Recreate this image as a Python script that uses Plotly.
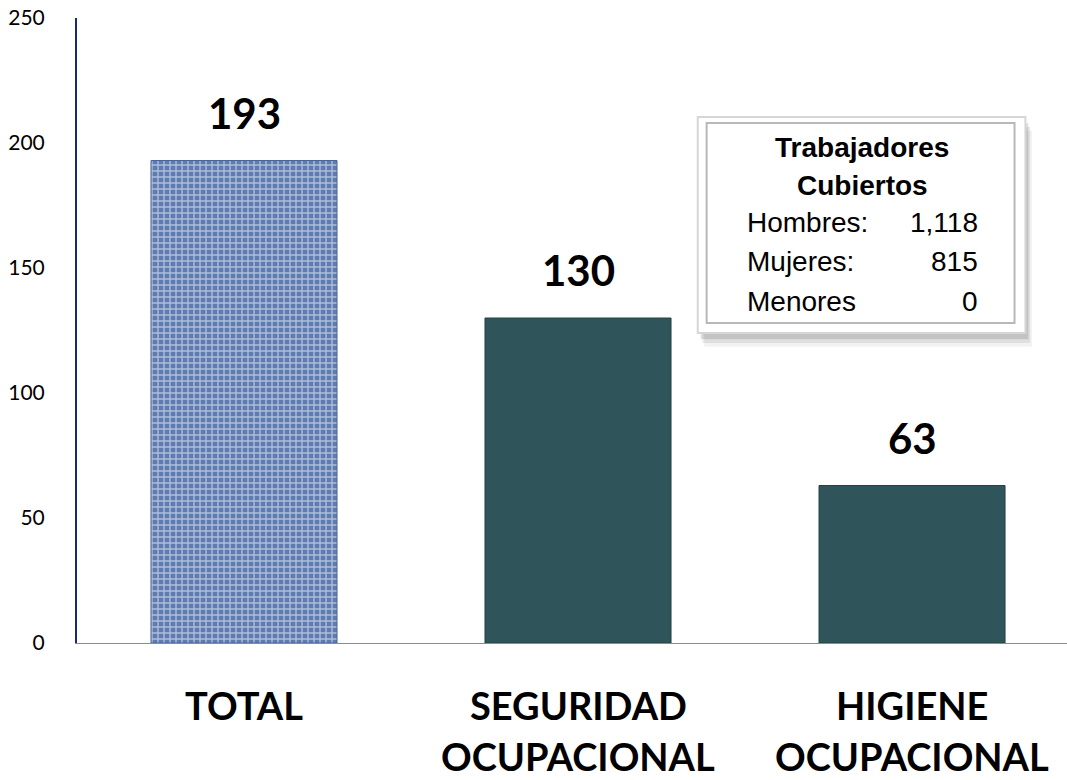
import plotly.graph_objects as go

# data
categorias = ["TOTAL", "SEGURIDAD OCUPACIONAL", "HIGIENE OCUPACIONAL"]
lineas = [["TOTAL"], ["SEGURIDAD", "OCUPACIONAL"], ["HIGIENE", "OCUPACIONAL"]]
valores = [193, 130, 63]
colores = ["#5f7cb2", "#2f5459", "#2f5459"]
y_ticks = [0, 50, 100, 150, 200, 250]

caja_titulo = ["Trabajadores", "Cubiertos"]
caja_etiquetas = ["Hombres:", "Mujeres:", "Menores"]
caja_valores = ["1,118", "815", "0"]

fig = go.Figure()

fig.add_trace(go.Bar(
    x=categorias,
    y=valores,
    marker=dict(
        color=colores,
        line=dict(color=["#4a6698", "#244246", "#244246"], width=1),
        pattern=dict(
            shape=["+", "", ""],
            fgcolor="#c3d3ec",
            size=6,
            solidity=0.4,
        ),
    ),
    showlegend=False,
    hoverinfo="x+y",
))

label_font = "Lato, Open Sans, sans-serif"

# value labels above the bars
for c, v in zip(categorias, valores):
    fig.add_annotation(
        x=c, y=v, text=f"<b>{v}</b>", showarrow=False,
        yanchor="middle", yshift=48,
        font=dict(family=label_font, size=42, color="black"),
    )

# category labels (two lines, spaced like the original)
for c, ls in zip(categorias, lineas):
    for i, t in enumerate(ls):
        fig.add_annotation(
            x=c, xref="x", yref="paper", y=0, text=f"<b>{t}</b>",
            showarrow=False, yanchor="middle", yshift=-62 - 51 * i,
            font=dict(family=label_font, size=38, color="black"),
        )

# info box (paper coordinates)
for dy, a in [(0.022, 0.05), (0.016, 0.08), (0.010, 0.12)]:
    fig.add_shape(type="rect", xref="paper", yref="paper",
                  x0=0.627 + dy * 0.3, x1=0.958 + dy * 0.3,
                  y0=0.496 - dy, y1=0.8416 - dy,
                  fillcolor=f"rgba(0,0,0,{a})", line_width=0, layer="above")
fig.add_shape(type="rect", xref="paper", yref="paper",
              x0=0.627, x1=0.958, y0=0.496, y1=0.8416,
              fillcolor="white", line=dict(color="#d6d6d6", width=2), layer="above")
fig.add_shape(type="rect", xref="paper", yref="paper",
              x0=0.636, x1=0.947, y0=0.512, y1=0.832,
              fillcolor="white", line=dict(color="#b8b8b8", width=2), layer="above")

box_font = "Liberation Sans, Arial, sans-serif"
for i, t in enumerate(caja_titulo):
    fig.add_annotation(
        xref="paper", yref="paper", x=0.793, y=0.7936 - i * 0.0608,
        text=f"<b>{t}</b>", showarrow=False, xanchor="center", yanchor="middle",
        font=dict(family=box_font, size=28, color="black"),
    )
for i, (lab, val) in enumerate(zip(caja_etiquetas, caja_valores)):
    yy = 0.6736 - i * 0.0632
    fig.add_annotation(
        xref="paper", yref="paper", x=0.675, y=yy, text=lab, showarrow=False,
        xanchor="left", yanchor="middle",
        font=dict(family=box_font, size=28, color="black"),
    )
    fig.add_annotation(
        xref="paper", yref="paper", x=0.912, y=yy, text=val, showarrow=False,
        xanchor="right", yanchor="middle",
        font=dict(family=box_font, size=28, color="black"),
    )

fig.update_layout(
    width=1067, height=780,
    margin=dict(l=77, r=0, t=18, b=137),
    plot_bgcolor="white", paper_bgcolor="white",
    bargap=0.443,
)

fig.update_xaxes(
    range=[-0.5, 2.464],
    showline=True, linecolor="#8c8c8c", linewidth=1,
    ticks="", showticklabels=False, automargin=False,
)

fig.update_yaxes(
    range=[0, 250],
    tickvals=y_ticks,
    showgrid=False, zeroline=False,
    showline=True, linecolor="#1b2a6b", linewidth=2,
    ticks="", ticklabelstandoff=26, automargin=False,
    tickfont=dict(family=label_font, size=21, color="black"),
)

fig.write_html(
    "out.html",
    config={"displayModeBar": False},
    post_script="document.body.style.margin='0';document.body.style.overflow='hidden';",
)
